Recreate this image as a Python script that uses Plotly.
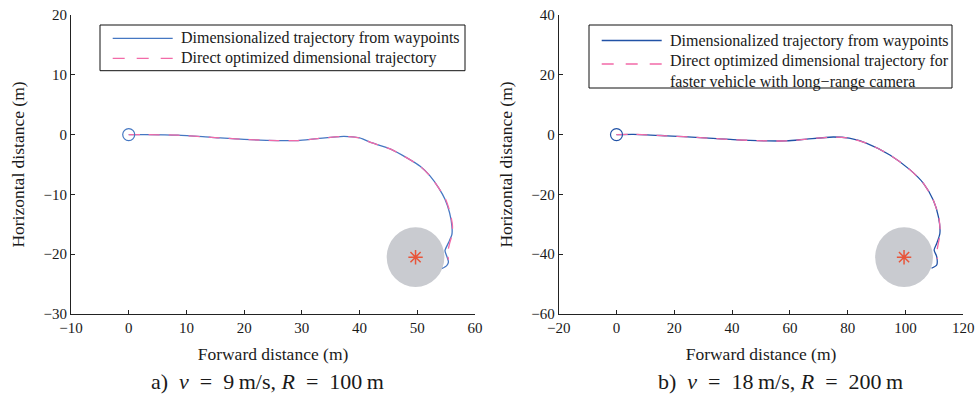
import plotly.graph_objects as go

# ---------------- data ----------------
# panel a)  v = 9 m/s, R = 100 m
a_blue_x = [0, 2.8, 8.5, 14.3, 20.0, 25.8, 29.3, 32.7, 37.3, 40.0, 42.2, 45.3, 48.2, 50.5,
            52.2, 53.7, 54.8, 55.6, 56.0, 56.0, 55.4, 54.8, 55.1, 55.4, 55.1, 54.3]
a_blue_y = [0, 0.0, -0.1, -0.45, -0.8, -1.0, -1.0, -0.67, -0.3, -0.55, -1.4, -2.4, -3.9, -5.3,
            -6.9, -8.9, -10.8, -13.1, -15.3, -16.7, -18.1, -19.4, -20.3, -21.3, -21.9, -22.4]
a_pink_x = [0, 2.8, 8.5, 14.3, 20.0, 25.8, 29.3, 32.7, 37.3, 40.0, 42.2, 45.3, 48.2, 50.5,
            52.2, 53.7, 54.9, 55.7, 56.1, 56.0, 55.6, 55.3, 55.3, 55.4]
a_pink_y = [0, 0.0, -0.1, -0.45, -0.8, -1.0, -1.0, -0.67, -0.3, -0.55, -1.4, -2.4, -3.9, -5.3,
            -6.9, -8.9, -10.8, -13.1, -15.3, -16.8, -18.2, -19.5, -20.3, -20.9]
a_target = (49.7, -20.5)
a_radius = 5.0

# panel b)  v = 18 m/s, R = 200 m
b_blue_x = [0, 5.8, 17.4, 28.9, 40.4, 52.0, 58.9, 65.8, 75.0, 80.5, 86.6, 94.6, 101.6, 106.2,
            109.6, 111.4, 111.9, 110.8, 109.9, 110.8, 110.8, 109.0]
b_blue_y = [0, 0.1, -0.4, -1.0, -1.7, -2.1, -2.1, -1.5, -0.8, -1.2, -2.9, -6.8, -11.8, -16.3,
            -21.9, -27.5, -33.0, -36.4, -38.6, -40.8, -43.6, -44.7]
b_pink_x = [0, 5.8, 17.4, 28.9, 40.4, 52.0, 58.9, 65.8, 75.0, 80.5, 86.6, 94.6, 101.6, 106.2,
            109.6, 111.5, 112.0, 111.3, 110.9, 111.0]
b_pink_y = [0, 0.1, -0.4, -1.0, -1.7, -2.1, -2.1, -1.5, -0.8, -1.2, -2.9, -6.8, -11.8, -16.3,
            -21.9, -27.5, -33.0, -36.6, -39.0, -41.6]
b_target = (99.5, -41.0)
b_radius = 10.0

a_xticks = [-10, 0, 10, 20, 30, 40, 50, 60]
a_yticks = [-30, -20, -10, 0, 10, 20]
b_xticks = [-20, 0, 20, 40, 60, 80, 100, 120]
b_yticks = [-60, -40, -20, 0, 20, 40]

legend_blue = "Dimensionalized trajectory from waypoints"
legend_pink_a = ["Direct optimized dimensional trajectory"]
legend_pink_b = ["Direct optimized dimensional trajectory for",
                 "faster vehicle with long\u2212range camera"]
caption_a = "a)\u2002<i>v</i>\u2002=\u20029\u2009m/s, <i>R</i>\u2002=\u2002100\u2009m"
caption_b = "b)\u2002<i>v</i>\u2002=\u200218\u2009m/s, <i>R</i>\u2002=\u2002200\u2009m"
xtitle = "Forward distance (m)"
ytitle = "Horizontal distance (m)"

# ---------------- styling ----------------
FONT = "Liberation Serif"
BLUE_A = "#4577c2"
BLUE_B = "#2152a6"
PINK = "#f26aa8"
RED = "#e8553a"
GRAY = "#c9cbd0"
AX = "#222222"
TXT = "#1a1a1a"
W, H = 978, 395

def px_x(v):
    return v / W

def px_y(v):
    return 1 - v / H

fig = go.Figure()

def add_panel(bx, by, px, py, target, radius, xa, ya, blue_col):
    fig.add_shape(type="circle", xref=xa, yref=ya,
                  x0=target[0] - radius, x1=target[0] + radius,
                  y0=target[1] - radius, y1=target[1] + radius,
                  fillcolor=GRAY, line=dict(width=0), layer="below")
    fig.add_trace(go.Scatter(x=bx, y=by, mode="lines", showlegend=False,
                             line=dict(color=blue_col, width=1.3, shape="spline", smoothing=0.7),
                             xaxis=xa, yaxis=ya))
    fig.add_trace(go.Scatter(x=px, y=py, mode="lines", showlegend=False,
                             line=dict(color=PINK, width=1.3, dash="11px,9px",
                                       shape="spline", smoothing=0.7),
                             xaxis=xa, yaxis=ya))
    fig.add_trace(go.Scatter(x=[bx[0]], y=[by[0]], mode="markers", showlegend=False,
                             marker=dict(symbol="circle-open", size=12, color=blue_col,
                                         line=dict(width=1.2, color=blue_col)),
                             xaxis=xa, yaxis=ya))
    fig.add_trace(go.Scatter(x=[target[0]], y=[target[1]], mode="markers", showlegend=False,
                             marker=dict(symbol="asterisk-open", size=12, color=RED,
                                         line=dict(width=1.5, color=RED)),
                             xaxis=xa, yaxis=ya))

add_panel(a_blue_x, a_blue_y, a_pink_x, a_pink_y, a_target, a_radius, "x", "y", BLUE_A)
add_panel(b_blue_x, b_blue_y, b_pink_x, b_pink_y, b_target, b_radius, "x2", "y2", BLUE_B)

def axis(domain, rng, ticks, title, anchor, standoff):
    return dict(domain=domain, range=rng, tickvals=ticks, ticks="inside", ticklen=4,
                tickcolor=AX, showline=True, linecolor=AX, linewidth=1, showgrid=False,
                zeroline=False, mirror=False, tickfont=dict(family=FONT, size=15, color=TXT),
                automargin=False, fixedrange=True, anchor=anchor,
                title=dict(text=title, font=dict(family=FONT, size=17.5, color=TXT),
                           standoff=standoff))

YDOM = [px_y(314), px_y(15)]
fig.update_layout(
    width=W, height=H,
    margin=dict(l=0, r=0, t=0, b=0),
    paper_bgcolor="white", plot_bgcolor="white",
    font=dict(family=FONT, color=TXT),
    showlegend=False,
    xaxis=axis([px_x(71), px_x(475)], [-10, 60], a_xticks, xtitle, "y", 12),
    yaxis=axis(YDOM, [-30, 20], a_yticks, ytitle, "x", 14),
    xaxis2=axis([px_x(558.7), px_x(963.3)], [-20, 120], b_xticks, xtitle, "y2", 12),
    yaxis2=axis(YDOM, [-60, 40], b_yticks, ytitle, "x2", 14),
)

# ---- legends (boxed, MATLAB style) ----
def legend_box(x0, x1, y0, y1, sample_x0, blue_col, rows_blue_y, pink_lines, pink_y, pink_sample_y):
    fig.add_shape(type="rect", xref="paper", yref="paper",
                  x0=px_x(x0), x1=px_x(x1), y0=px_y(y1), y1=px_y(y0),
                  line=dict(color="#111111", width=1), fillcolor="white", layer="above")
    fig.add_shape(type="line", xref="paper", yref="paper",
                  x0=px_x(sample_x0), x1=px_x(sample_x0 + 60),
                  y0=px_y(rows_blue_y), y1=px_y(rows_blue_y),
                  line=dict(color=blue_col, width=1.3), layer="above")
    fig.add_shape(type="line", xref="paper", yref="paper",
                  x0=px_x(sample_x0), x1=px_x(sample_x0 + 60),
                  y0=px_y(pink_sample_y), y1=px_y(pink_sample_y),
                  line=dict(color=PINK, width=1.3, dash="12px,12px"), layer="above")
    tx = sample_x0 + 66
    fig.add_annotation(text=legend_blue, xref="paper", yref="paper",
                       x=px_x(tx), y=px_y(rows_blue_y), xanchor="left", yanchor="middle",
                       showarrow=False, font=dict(family=FONT, size=16, color=TXT))
    for i, line in enumerate(pink_lines):
        fig.add_annotation(text=line, xref="paper", yref="paper",
                           x=px_x(tx), y=px_y(pink_y + 20 * i), xanchor="left", yanchor="middle",
                           showarrow=False, font=dict(family=FONT, size=16, color=TXT))

legend_box(100, 465, 25, 70.7, 112.7, BLUE_A, 38.3, legend_pink_a, 58.3, 58.3)
legend_box(589, 952, 25, 88, 601.7, BLUE_B, 40.5, legend_pink_b, 61.5, 64)

fig.add_annotation(text=caption_a, xref="paper", yref="paper", x=px_x(267), y=px_y(381),
                   xanchor="center", yanchor="middle",
                   showarrow=False, font=dict(family=FONT, size=22, color=TXT))
fig.add_annotation(text=caption_b, xref="paper", yref="paper", x=px_x(780), y=px_y(381),
                   xanchor="center", yanchor="middle",
                   showarrow=False, font=dict(family=FONT, size=22, color=TXT))

fig.write_html("out.html", config={"displayModeBar": False},
               post_script="document.body.style.margin='0px';")
